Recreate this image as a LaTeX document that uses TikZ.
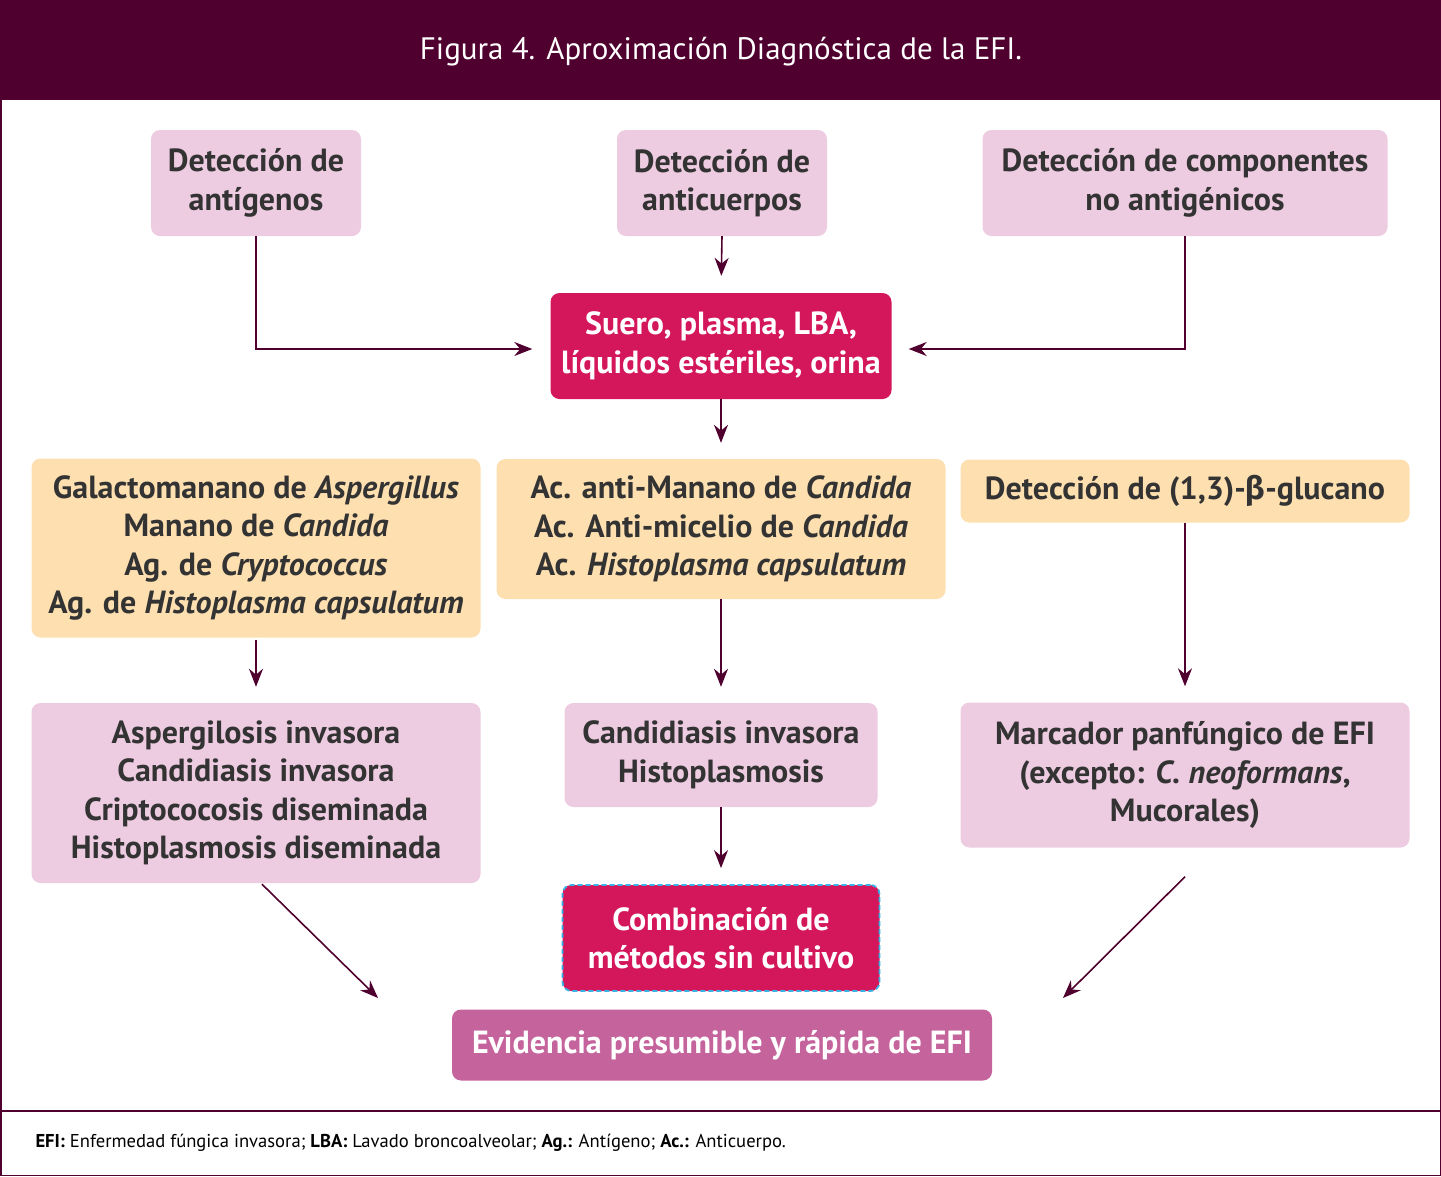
\documentclass[tikz,border=0pt]{standalone}
\usepackage{fontspec}
\setmainfont{PT Sans}
\newfontfamily\griega{Fira Sans}
\usepackage{tikz}
\usetikzlibrary{arrows.meta,calc}

\definecolor{vino}{HTML}{4F002F}
\definecolor{rosa}{HTML}{EDCBE0}
\definecolor{durazno}{HTML}{FDDFB0}
\definecolor{carmin}{HTML}{D3175A}
\definecolor{malva}{HTML}{C5649C}
\definecolor{texto}{HTML}{333333}
\definecolor{celeste}{HTML}{38B2E6}

\begin{document}
\begin{tikzpicture}[x=1pt,y=-1pt,
    caja/.style={rounded corners=9pt,inner sep=0pt,align=center,text=texto,
      font=\fontsize{32}{38.5}\selectfont\bfseries},
    cajarosa/.style={caja,fill=rosa},
    cajadur/.style={caja,fill=durazno},
    cajafuerte/.style={caja,fill=carmin,text=white},
    flecha/.style={-{Stealth[length=18pt,width=14pt]},line width=1.6pt,draw=vino}]
    \useasboundingbox (0,0) rectangle (1441,1176);
    % marco y cabecera
    \fill[vino] (0,0) rectangle (1441,100);
    \draw[vino,line width=1.5pt] (0.75,0) rectangle (1440.25,1175.25);
    \draw[vino,line width=1.2pt] (0,1111) -- (1441,1111);
    \node[text=white,font=\fontsize{31}{36}\selectfont] (titulo) at (721,52)
      {Figura 4. Aproximación Diagnóstica de la EFI.};
    % fila 1
    \node[cajarosa,minimum width=210pt,minimum height=106pt] (antig) at (256,183)
      {Detección de\\antígenos};
    \node[cajarosa,minimum width=210pt,minimum height=106pt] (anticu) at (722,183)
      {Detección de\\anticuerpos};
    \node[cajarosa,minimum width=405pt,minimum height=106pt] (compon) at (1185,183)
      {Detección de componentes\\no antigénicos};
    % muestra
    \node[cajafuerte,minimum width=341pt,minimum height=106pt] (suero) at (721,346)
      {Suero, plasma, LBA,\\líquidos estériles, orina};
    % fila 2
    \node[cajadur,minimum width=449pt,minimum height=179pt] (galacto) at (256,548)
      {Galactomanano de \textit{Aspergillus}\\Manano de \textit{Candida}\\
       Ag. de \textit{Cryptococcus}\\Ag. de \textit{Histoplasma capsulatum}};
    \node[cajadur,minimum width=449pt,minimum height=140pt] (acmanano) at (721,529)
      {Ac. anti-Manano de \textit{Candida}\\Ac. Anti-micelio de \textit{Candida}\\
       Ac. \textit{Histoplasma capsulatum}};
    \node[cajadur,minimum width=449pt,minimum height=63pt] (glucano) at (1185,491)
      {Detección de (1,3)-{\griega β}-glucano};
    % fila 3
    \node[cajarosa,minimum width=449pt,minimum height=180pt] (asperg) at (256,793)
      {Aspergilosis invasora\\Candidiasis invasora\\
       Criptococosis diseminada\\Histoplasmosis diseminada};
    \node[cajarosa,minimum width=313pt,minimum height=104pt] (candid) at (721,755)
      {Candidiasis invasora\\Histoplasmosis};
    \node[cajarosa,minimum width=449pt,minimum height=145pt] (marcador) at (1185,775)
      {Marcador panfúngico de EFI\\(excepto: \textit{C. neoformans},\\Mucorales)};
    % combinacion y resultado
    \node[cajafuerte,minimum width=317pt,minimum height=106pt,draw=celeste,
      dash pattern=on 5pt off 3pt,line width=1.8pt] (combina) at (721,938)
      {Combinación de\\métodos sin cultivo};
    \node[caja,fill=malva,text=white,minimum width=540pt,minimum height=71pt]
      (evidencia) at (722,1045) {Evidencia presumible y rápida de EFI};
    % conectores
    \draw[flecha,shorten >=18pt] (antig.south) |- ([yshift=-3pt]suero.west);
    \draw[flecha,shorten >=17pt] (anticu.south) -- (suero.north);
    \draw[flecha,shorten >=17pt] (compon.south) |- ([yshift=-3pt]suero.east);
    \draw[flecha,shorten >=16pt] (suero.south) -- (acmanano.north);
    \draw[flecha,shorten >=16pt] ([yshift=-2pt]galacto.south) -- (galacto.south |- asperg.north);
    \draw[flecha,shorten >=16pt] (acmanano.south) -- (candid.north);
    \draw[flecha,shorten >=16pt] (glucano.south) -- (glucano.south |- marcador.north);
    \draw[flecha,shorten >=16pt] (candid.south) -- (combina.north);
    \coordinate (llegaizq) at (378,998);
    \coordinate (llegader) at (1063,998);
    \draw[flecha] ([xshift=6pt,yshift=-1pt]asperg.south) -- (llegaizq);
    \draw[flecha] ([yshift=-29pt]marcador.south) -- (llegader);
    % pie
    \node[anchor=west,text=black,font=\fontsize{18.6}{22}\selectfont] (pie) at (32,1143)
      {\textbf{EFI:} Enfermedad fúngica invasora; \textbf{LBA:} Lavado broncoalveolar;
       \textbf{Ag.:} Antígeno; \textbf{Ac.:} Anticuerpo.};
\end{tikzpicture}
\end{document}
